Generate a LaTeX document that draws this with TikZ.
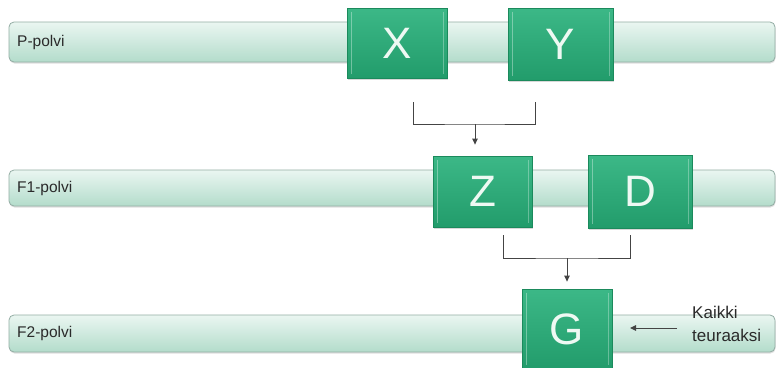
\documentclass[tikz,border=0pt]{standalone}
\usepackage{fontspec}
\setmainfont{Liberation Sans}
\usetikzlibrary{arrows.meta,shadows}
\definecolor{barTop}{HTML}{EAF6F1}
\definecolor{barBot}{HTML}{B3DCCB}
\definecolor{barEdge}{HTML}{93ADA4}
\definecolor{boxTop}{HTML}{3CB887}
\definecolor{boxBot}{HTML}{229C6B}
\definecolor{boxEdge}{HTML}{1B8A5C}
\definecolor{lineCol}{HTML}{444444}
\definecolor{txtCol}{HTML}{2A2A2A}
\definecolor{letterCol}{HTML}{EEF9F3}
\tikzset{
  bar/.style={draw=barEdge, line width=0.8pt, rounded corners=5pt,
    top color=barTop, bottom color=barBot,
    drop shadow={shadow xshift=0.5pt, shadow yshift=-1.5pt, opacity=0.25}},
  barlabel/.style={anchor=west, text=txtCol, font=\fontsize{15.5}{15.5}\selectfont, inner sep=0pt},
  gbox/.style={draw=boxEdge, line width=0.8pt, top color=boxTop, bottom color=boxBot,
    text=letterCol, font=\fontsize{44}{44}\selectfont, inner sep=0pt,
    drop shadow={shadow xshift=0.5pt, shadow yshift=-1.5pt, opacity=0.3}},
  conn/.style={draw=lineCol, line width=1pt},
  arr/.style={draw=lineCol, line width=1pt, -{Triangle[length=6pt,width=5.5pt]}},
  note/.style={anchor=west, text=txtCol, font=\fontsize{17}{23}\selectfont, align=left, inner sep=0pt}
}
\begin{document}
\begin{tikzpicture}[x=1pt,y=-1pt]
\useasboundingbox (0,0) rectangle (776,367);
\fill[white] (0,0) rectangle (776,367);
% bars
\path[bar] (9,22) rectangle (775,62);
\path[bar] (9,170) rectangle (775,206);
\path[bar] (9,315) rectangle (775,352);
\node[barlabel] (lp) at (17,42) {P-polvi};
\node[barlabel] (lf1) at (17,188) {F1-polvi};
\node[barlabel] (lf2) at (17,333.5) {F2-polvi};
% boxes
\node[gbox, minimum width=100pt, minimum height=70pt] (X) at (397,43) {X};
\node[gbox, minimum width=105pt, minimum height=72pt] (Y) at (560.5,44) {Y};
\node[gbox, minimum width=99pt, minimum height=71pt] (Z) at (482.5,191.5) {Z};
\node[gbox, minimum width=104pt, minimum height=73pt] (D) at (640,191.5) {D};
\node[gbox, minimum width=90pt, minimum height=80pt] (G) at (567,329) {G};
% subtle highlights on box sides
\foreach \b in {X,Y,Z,D,G}{
  \draw[white, opacity=0.35, line width=1pt] ([xshift=5pt,yshift=-4pt]\b.north west) -- ([xshift=5pt,yshift=4pt]\b.south west);
  \draw[white, opacity=0.3, line width=1pt] ([xshift=-4pt,yshift=-4pt]\b.north east) -- ([xshift=-4pt,yshift=4pt]\b.south east);
}
% connectors P -> F1
\coordinate (b1l) at (413,102);
\coordinate (b1r) at (535,102);
\coordinate (b1m) at (475,124);
\draw[conn] (b1l) |- (b1m) -| (b1r);
\draw[arr, shorten >=11pt] (b1m) -- (b1m |- Z.north);
% connectors F1 -> F2
\coordinate (b2l) at (503,235);
\coordinate (b2r) at (630,235);
\coordinate (b2m) at (567,258);
\draw[conn] (b2l) |- (b2m) -| (b2r);
\draw[arr, shorten >=7pt] (b2m) -- (b2m |- G.north);
% note
\node[note] (kt) at (692,323.5) {Kaikki\\teuraaksi};
\coordinate (ka) at (630,328);
\coordinate (kb) at (677,328);
\draw[arr] (kb) -- (ka);
\end{tikzpicture}
\end{document}
